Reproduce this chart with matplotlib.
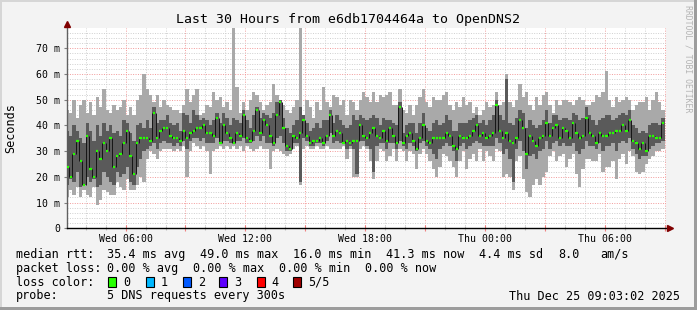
import numpy as np
import matplotlib
matplotlib.use("Agg")
import matplotlib.pyplot as plt
import matplotlib.dates as mdates
from matplotlib.ticker import MultipleLocator, FuncFormatter
from matplotlib.patches import Rectangle
from datetime import datetime, timedelta

plt.rcParams['font.family'] = ['DejaVu Sans Mono']

# ---------------- data ----------------
title = "Last 30 Hours from e6db1704464a to OpenDNS2"
end_time = datetime(2025, 12, 25, 9, 3, 2)
start_time = end_time - timedelta(hours=30)
first_step = datetime(2025, 12, 24, 3, 0)
step_minutes = 10
n_steps = 180

# smoke: sorted pings (ms) per 10-min step: lowest, 2nd, median, 4th, highest
ping_lo = [12,15,13,16,12,15,13,12,16,9, 11,15,14,13,13,18,16,15,19,15, 15,17,20,18,27,30,29,27,30,31,
           31,31,30,31,30,32,20,30,33,32, 31,32,30,21,30,31,32,31,32,31, 32,31,32,30,32,31,30,31,32,31,
           31,23,30,31,30,29,28,29,31,32, 17,31,32,31,31,32,31,31,32,31, 31,31,31,32,27,31,20,20,31,32,
           31,26,19,26,31,30,26,28,31,26, 31,30,26,30,29,23,29,31,29,26, 23,20,24,29,28,26,24,20,26,30,
           23,27,29,26,31,26,30,28,26,31, 30,20,21,20,15,26,28,19,14,12, 17,19,17,20,22,28,30,26,28,29,
           24,27,29,21,16,23,27,27,26,26, 29,22,24,24,26,19,27,29,25,30, 28,22,21,22,25,27,28,30,30,31]
ping_q1 = [17,19,18,22,16,17,20,18,19,16, 17,22,20,18,17,22,20,21,24,18, 17,24,27,30,31,32,33,31,33,34,
           33,33,32,33,32,34,31,34,35,35, 34,35,33,33,33,35,33,34,34,33, 33,34,34,35,33,33,34,36,34,36,
           33,33,32,35,36,33,30,30,33,33, 18,35,34,32,32,33,33,32,34,37, 33,34,33,33,31,32,31,21,34,34,
           32,31,22,32,33,33,31,33,33,31, 34,32,31,33,32,30,33,34,32,31, 29,27,31,32,33,32,30,26,32,33,
           31,32,33,34,33,32,32,32,32,35, 33,29,31,27,18,31,34,30,23,28, 29,27,30,31,34,31,33,34,32,33,
           32,32,33,30,29,31,34,32,32,31, 33,30,32,32,33,30,33,34,33,35, 31,29,27,28,28,31,32,33,33,34]
ping_med = [24,20,29,34,26,17,36,23,20,30, 27,33,30,35,24,28,29,33,38,28, 21,33,35,35,35,34,45,35,38,39,
            39,36,35,35,34,38,35,37,38,39, 39,40,37,37,36,43,33,40,37,35, 33,37,36,44,35,34,38,46,37,42,
            40,36,33,44,49,39,32,31,36,35, 37,42,36,33,34,34,35,33,36,44, 36,38,37,33,34,33,34,34,40,36,
            35,37,39,36,35,38,34,39,36,33, 47,33,36,37,34,31,35,40,34,33, 35,35,35,35,37,36,32,31,36,35,
            35,36,38,40,36,37,35,36,37,48, 38,35,37,34,33,35,42,39,29,36, 34,32,35,36,41,36,39,40,35,39,
            38,35,41,37,35,36,43,37,36,33, 37,36,36,37,37,38,38,40,38,42, 34,33,31,33,30,36,36,35,35,41]
ping_q3 = [38,36,40,38,35,33,41,38,34,40, 36,41,38,40,37,38,36,42,41,37, 34,40,41,39,42,39,47,41,42,42,
           44,41,40,41,38,45,44,41,46,44, 42,43,42,40,42,45,41,45,43,40, 43,42,41,46,42,39,44,47,43,45,
           44,43,45,49,50,43,39,37,40,42, 47,44,41,38,39,41,39,42,42,46, 41,44,42,40,39,40,44,42,44,43,
           42,43,44,43,40,43,42,42,41,40, 49,37,40,41,41,37,41,45,39,38, 41,42,40,41,44,42,38,38,41,41,
           41,42,43,44,41,42,40,42,44,50, 44,42,58,41,40,43,46,45,39,42, 40,39,40,42,46,41,44,44,42,43,
           43,42,45,44,42,43,47,44,42,40, 42,43,44,44,42,43,44,45,44,46, 40,39,37,38,37,40,41,41,40,43]
ping_hi = [46,45,50,43,48,50,45,49,44,51, 47,54,46,45,48,46,47,50,44,47, 44,50,52,60,54,52,49,52,47,50,
           48,47,46,46,45,48,54,49,52,54, 44,45,48,47,53,50,51,47,49,46, 78,55,45,49,46,50,53,52,49,46,
           48,49,56,52,50,48,46,45,47,50, 78,44,50,47,43,49,46,55,49,47, 52,51,48,50,44,50,49,46,50,53,
           51,49,53,49,52,51,52,53,48,48, 54,46,45,48,44,48,51,54,49,47, 51,50,50,52,53,48,46,49,47,51,
           48,49,45,47,44,46,49,47,48,53, 48,49,60,49,47,50,56,51,53,48, 46,51,48,52,53,48,45,50,48,50,
           50,49,48,50,51,50,48,48,49,52, 51,53,61,50,47,51,49,50,51,50, 46,48,49,49,51,46,50,53,49,46]

rtt_stats = ["35.4 ms avg", "49.0 ms max", "16.0 ms min", "41.3 ms now", "4.4 ms sd", "8.0", "am/s"]
loss_stats = ["0.00 % avg", "0.00 % max", "0.00 % min", "0.00 % now"]
loss_labels = ["0", "1", "2", "3", "4", "5/5"]
loss_colors = ["#26ff00", "#00b8ff", "#0059ff", "#5e00ff", "#ff0000", "#a00000"]
probe_text = "5 DNS requests every 300s"
stamp_text = "Thu Dec 25 09:03:02 2025"

# ---------------- figure ----------------
W, H = 697, 310
fig = plt.figure(figsize=(W / 100, H / 100), dpi=100)
fig.patch.set_facecolor('#f3f3f3')

def fx(px):
    return px / W

def fy(py):
    return 1 - py / H

# borders (shade)
fig.patches.append(Rectangle((0, fy(2)), 1, 2 / H, transform=fig.transFigure, color='#d6d6d6', lw=0, zorder=-1))
fig.patches.append(Rectangle((0, 0), fx(2), 1, transform=fig.transFigure, color='#d6d6d6', lw=0, zorder=-1))
fig.patches.append(Rectangle((0, 0), 1, 3 / H, transform=fig.transFigure, color='#9c9c9c', lw=0, zorder=-1))
fig.patches.append(Rectangle((1 - fx(3), 0), fx(3), 1, transform=fig.transFigure, color='#9c9c9c', lw=0, zorder=-1))

ax_left, ax_right, ax_top, ax_bottom = 66.7, 665.7, 28.3, 228.3
ax = fig.add_axes([fx(ax_left), fy(ax_bottom), fx(ax_right - ax_left), (ax_bottom - ax_top) / H])
ax.set_facecolor('white')

times = [first_step + timedelta(minutes=step_minutes * i) for i in range(n_steps)]
x = mdates.date2num(times)
dx = step_minutes / 1440.0
edges = np.append(x, x[-1] + dx)

def ext(a):
    a = np.asarray(a, dtype=float)
    return np.append(a, a[-1])

med = np.asarray(ping_med, dtype=float)
ax.fill_between(edges, ext(ping_lo), ext(ping_hi), step='post', color='#a9a9a9', lw=0, zorder=2)
ax.fill_between(edges, ext(ping_q1), ext(ping_q3), step='post', color='#5a5a5a', lw=0, zorder=3)
# median: dark vertical connectors between steps, green marks per step
ax.vlines(edges[1:-1], np.minimum(med[:-1], med[1:]), np.maximum(med[:-1], med[1:]),
          colors='#151515', lw=0.7, zorder=4)
ax.hlines(med, x + 0.15 * dx, x + 0.85 * dx, colors=loss_colors[0], lw=1.6, zorder=5)

ax.set_xlim(mdates.date2num(start_time), mdates.date2num(end_time))
ax.set_ylim(0, 77.8)

ax.xaxis.set_major_locator(mdates.HourLocator(byhour=range(0, 24, 3)))
ax.xaxis.set_minor_locator(mdates.HourLocator())

def xfmt(v, pos):
    d = mdates.num2date(v)
    return d.strftime('%a %H:%M') if d.hour % 6 == 0 else ''

ax.xaxis.set_major_formatter(FuncFormatter(xfmt))
ax.yaxis.set_major_locator(MultipleLocator(10))
ax.yaxis.set_minor_locator(MultipleLocator(2))
ax.yaxis.set_major_formatter(FuncFormatter(lambda v, p: '0' if v == 0 else f'{v:.0f} m'))

ax.set_axisbelow(True)
ax.grid(which='major', color='#f29a9a', linestyle=(0, (1, 1.5)), lw=0.7)
ax.grid(which='minor', color='#cfcfcf', linestyle=(0, (1, 1.5)), lw=0.7)

ax.tick_params(axis='x', which='major', direction='inout', length=4, width=0.8, color='#f08080',
               labelsize=7.1, pad=2)
ax.tick_params(axis='x', which='minor', direction='inout', length=3, width=0.8, color='#c0c0c0')
ax.tick_params(axis='y', which='major', direction='out', length=2, width=0.8, color='#808080',
               labelsize=7.1, pad=2.5)
ax.tick_params(axis='y', which='minor', length=0)

for s in ('top', 'right'):
    ax.spines[s].set_visible(False)
ax.spines['left'].set_color('#606060')
ax.spines['left'].set_linewidth(1.0)
ax.spines['bottom'].set_color('#000000')
ax.spines['bottom'].set_linewidth(1.0)

# arrows
ax.plot([1.0 + 4 / 599], [0], marker='>', ms=4, color='#800000', transform=ax.transAxes, clip_on=False, zorder=10)
ax.plot([0], [1.0 + 4 / 200], marker='^', ms=4, color='#800000', transform=ax.transAxes, clip_on=False, zorder=10)

# texts
fig.text(fx(348.5), fy(19.3), title, ha='center', va='center', fontsize=9.5)
fig.text(fx(11), fy(128), 'Seconds', rotation=90, ha='center', va='center', fontsize=8.5)
fig.text(fx(688), fy(59), 'RRDTOOL / TOBI OETIKER', rotation=270, ha='center', va='center',
         fontsize=5.9, color='#b4b4b4')

fs = 8.5
y1, y2, y3, y4 = 254.3, 268.3, 282.3, 296.0
fig.text(fx(16), fy(y1), 'median rtt:', va='center', fontsize=fs)
for txt, px in zip(rtt_stats, [107.3, 200, 293.3, 386, 479.3, 558.3, 600]):
    fig.text(fx(px), fy(y1), txt, va='center', fontsize=fs)
fig.text(fx(16), fy(y2), 'packet loss:', va='center', fontsize=fs)
for txt, px in zip(loss_stats, [107.3, 193.3, 279.3, 365]):
    fig.text(fx(px), fy(y2), txt, va='center', fontsize=fs)
fig.text(fx(16), fy(y3), 'loss color:', va='center', fontsize=fs)
for lab, col, px in zip(loss_labels, loss_colors, [108.3, 145.7, 182.7, 219.3, 256.7, 293.3]):
    fig.patches.append(Rectangle((fx(px), fy(y3 + 5)), fx(8), 10 / H, transform=fig.transFigure,
                                 facecolor=col, edgecolor='black', lw=0.8))
    fig.text(fx(px + 15), fy(y3), lab, va='center', fontsize=fs)
fig.text(fx(16), fy(y4), 'probe:', va='center', fontsize=fs)
fig.text(fx(107.3), fy(y4), probe_text, va='center', fontsize=fs)
fig.text(fx(680), fy(y4), stamp_text, va='center', ha='right', fontsize=fs)

fig.savefig('out.png', dpi=100, facecolor=fig.get_facecolor())
